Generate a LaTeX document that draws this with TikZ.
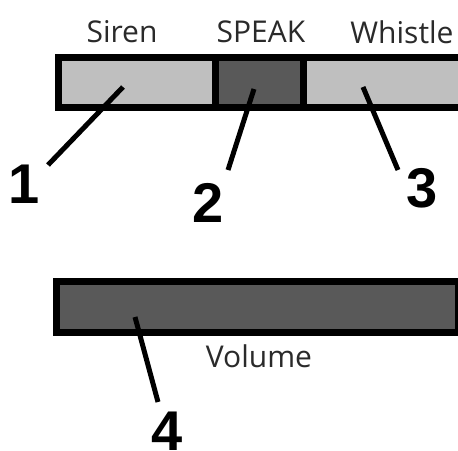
\documentclass[tikz,border=0pt]{standalone}
\usepackage{fontspec}
\setmainfont{Open Sans}
\newfontfamily\numfont{Liberation Sans}
\definecolor{lightfill}{HTML}{BFBFBF}
\definecolor{darkfill}{HTML}{595959}
\definecolor{labeltext}{HTML}{2A2A2A}
\begin{document}
\begin{tikzpicture}[x=1pt,y=-1pt,
  seg/.style={draw=black,line width=7pt,inner sep=0pt,outer sep=0pt,minimum height=50pt},
  lbl/.style={inner sep=0pt,text=labeltext,font=\fontsize{30}{33}\selectfont},
  num/.style={inner sep=0pt,font=\numfont\bfseries\fontsize{56}{60}\selectfont},
  leader/.style={line width=5pt}]
\useasboundingbox (0,0) rectangle (458,450);
\clip (0,0) rectangle (458,450);
\fill[white] (0,0) rectangle (458,450);
% top bar
\node[seg,fill=lightfill,minimum width=157pt] (siren) at (136.5,82) {};
\node[seg,fill=darkfill,minimum width=88pt] (speak) at (259,82) {};
\node[seg,fill=lightfill,minimum width=159pt] (whistle) at (382.5,82) {};
% volume bar
\node[seg,fill=darkfill,minimum width=402pt,minimum height=51pt] (volume) at (257.5,307) {};
% labels
\node[lbl] (tsiren) at (122,32) {Siren};
\node[lbl] (tspeak) at (261,32) {SPEAK};
\node[lbl] (twhistle) at (402,32) {Whistle};
\node[lbl] (tvolume) at (259,356) {Volume};
% numbers
\node[num] (n1) at (24,184) {1};
\node[num] (n2) at (208,203) {2};
\node[num] (n3) at (422,188) {3};
\node[num] (n4) at (167,431) {4};
% leader endpoints
\coordinate (a1) at (123,87);
\coordinate (b1) at (48,165);
\coordinate (a2) at (254,89);
\coordinate (b2) at (228,170);
\coordinate (a3) at (363,87);
\coordinate (b3) at (398,170);
\coordinate (a4) at (135,317);
\coordinate (b4) at (158,402);
\draw[leader] (a1) -- (b1);
\draw[leader] (a2) -- (b2);
\draw[leader] (a3) -- (b3);
\draw[leader] (a4) -- (b4);
\end{tikzpicture}
\end{document}
